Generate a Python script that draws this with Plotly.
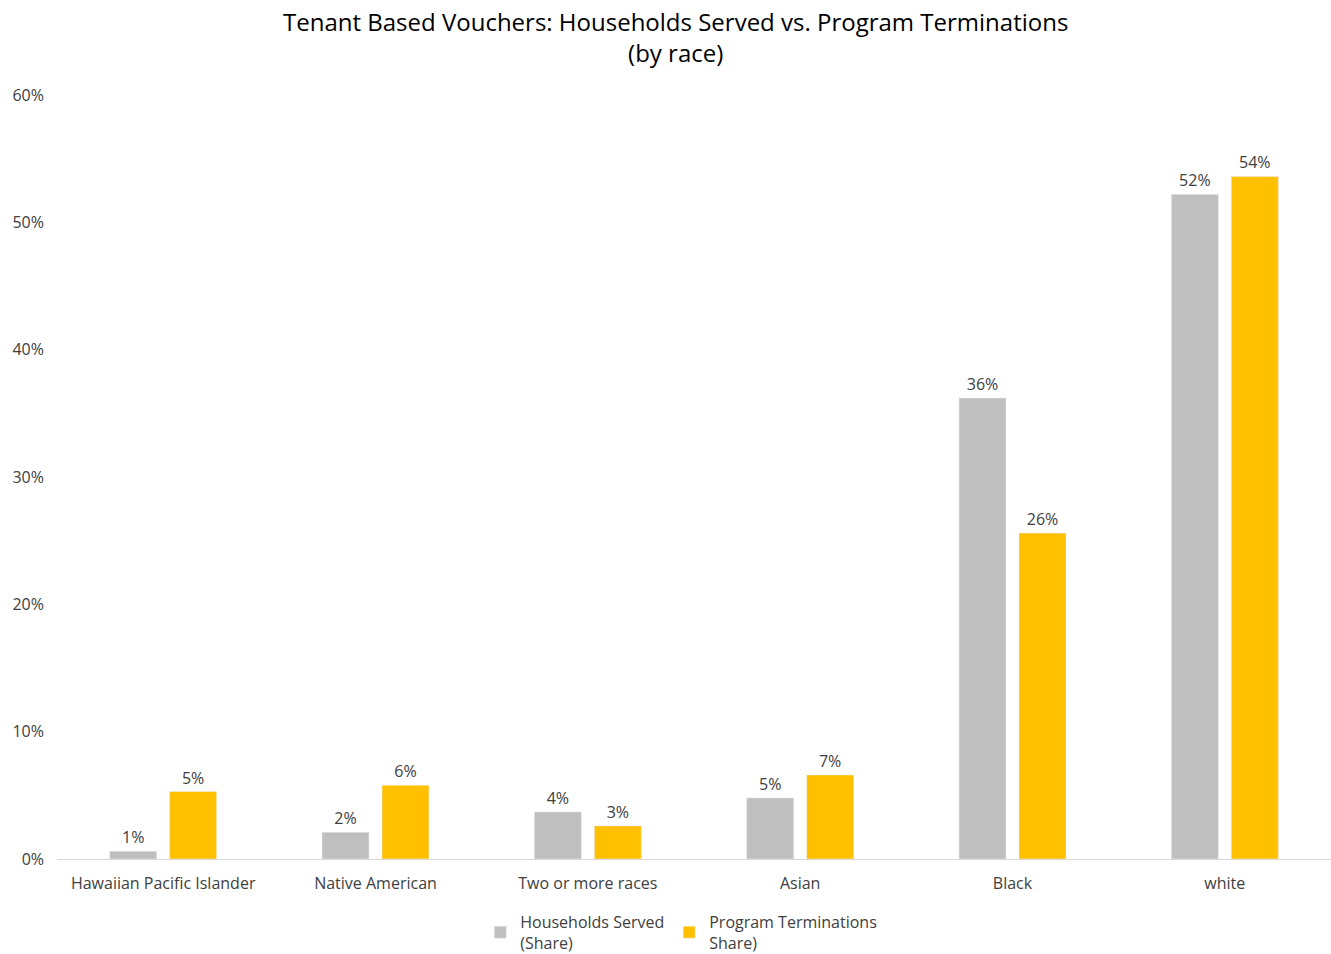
import plotly.graph_objects as go

categories = ["Hawaiian Pacific Islander", "Native American", "Two or more races", "Asian", "Black", "white"]
households_served = [0.6, 2.1, 3.7, 4.8, 36.2, 52.2]
program_terminations = [5.3, 5.8, 2.6, 6.6, 25.6, 53.6]

font_family = "Open Sans, Liberation Sans, sans-serif"
txt_color = "#404040"

fig = go.Figure()
fig.add_trace(go.Bar(
    x=categories, y=households_served, name="Households Served<br>(Share)",
    marker_color="#BFBFBF",
    text=[f"{v:.0f}%" for v in households_served], textposition="outside",
    textfont=dict(size=16, color=txt_color, family=font_family), cliponaxis=False,
))
fig.add_trace(go.Bar(
    x=categories, y=program_terminations, name="Program Terminations<br>Share)",
    marker_color="#FFC000",
    text=[f"{v:.0f}%" for v in program_terminations], textposition="outside",
    textfont=dict(size=16, color=txt_color, family=font_family), cliponaxis=False,
))

fig.update_layout(
    width=1331, height=954,
    paper_bgcolor="white", plot_bgcolor="white",
    font=dict(family=font_family, size=16, color=txt_color),
    annotations=[dict(
        text="Tenant Based Vouchers: Households Served vs. Program Terminations<br>(by race)",
        xref="paper", yref="paper", x=(675 - 57) / 1274, y=1 + (95 - 37) / 764,
        xanchor="center", yanchor="middle", showarrow=False,
        font=dict(size=24, color="#000000", family=font_family),
    )],
    margin=dict(l=57, r=0, t=95, b=95, autoexpand=False),
    barmode="group", bargap=0.435, bargroupgap=0.217,
    showlegend=True,
    legend=dict(orientation="h", x=0.49, xanchor="center", y=-0.06, yanchor="top",
                font=dict(size=16, color=txt_color), itemwidth=30, traceorder="normal"),
    xaxis=dict(showline=True, linecolor="#D9D9D9", linewidth=1, ticks="", showgrid=False,
               automargin=False, ticklabelstandoff=10,
               tickfont=dict(size=16, color=txt_color)),
    yaxis=dict(range=[0, 60], dtick=10, ticksuffix="%", showgrid=False, zeroline=False,
               showline=False, automargin=False, ticklabelstandoff=12,
               tickfont=dict(size=16, color=txt_color)),
)

fig.write_html("out.html", config={"displayModeBar": False},
               post_script="document.body.style.margin='0';document.body.style.overflow='hidden';")
